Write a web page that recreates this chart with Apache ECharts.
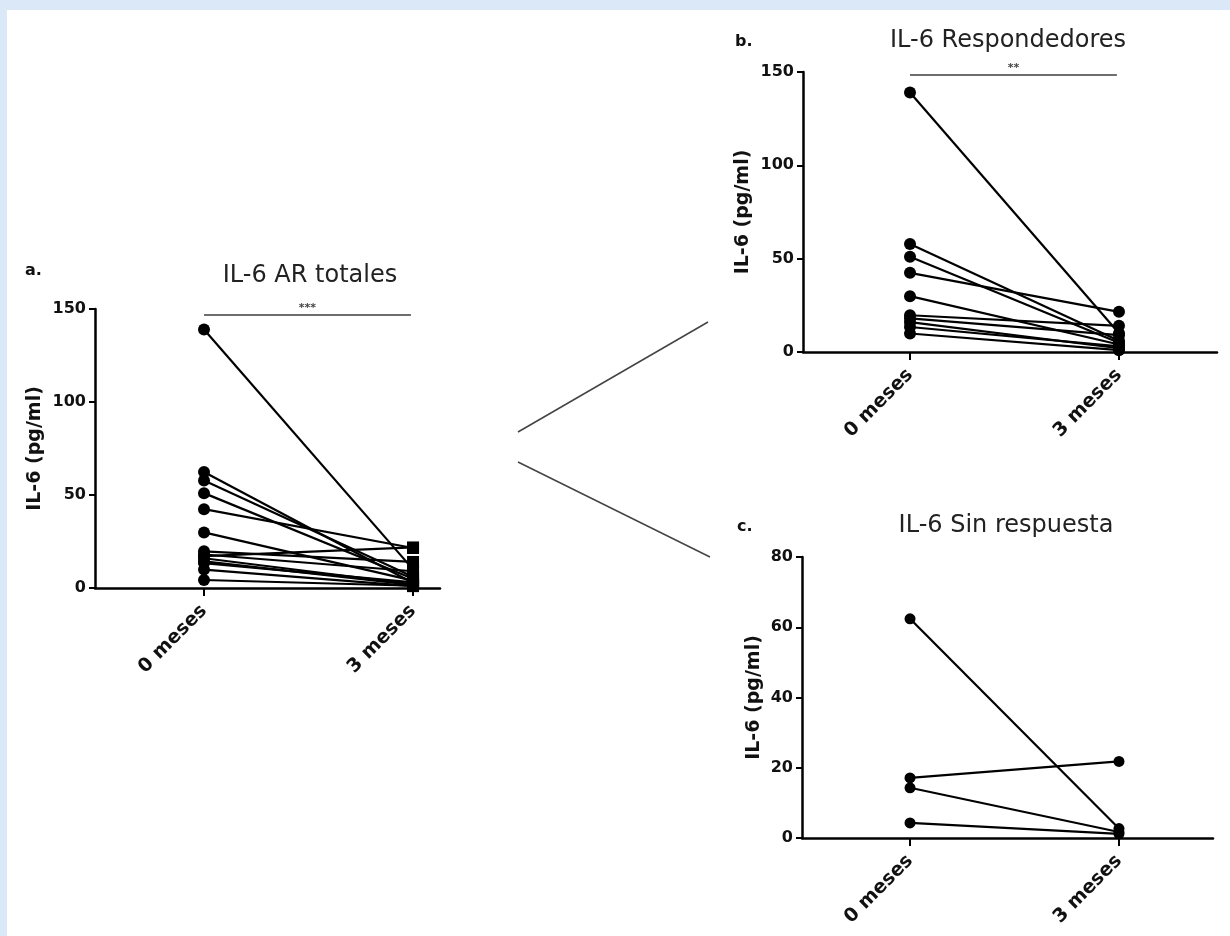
<!DOCTYPE html>
<html>
<head>
<meta charset="utf-8">
<script src="https://cdn.jsdelivr.net/npm/echarts@6/dist/echarts.min.js"></script>
<style>
html,body{margin:0;padding:0;background:#dbe8f8;}
#chart{width:1230px;height:936px;}
</style>
</head>
<body>
<div id="chart"></div>
<script>
// ---- data ----
const categories = ['0 meses', '3 meses'];
const respBaseline = [139, 57.8, 51, 42.4, 29.9, 19.7, 18, 16, 13.4, 9.9];
const respMonth3   = [10, 6, 5, 21.5, 4, 14, 9, 2, 3, 1];
const nonBaseline  = [62.4, 17.1, 14.3, 4.3];
const nonMonth3    = [2.7, 21.8, 1.7, 1.2];
const totalBaseline = respBaseline.concat(nonBaseline);
const totalMonth3   = respMonth3.concat(nonMonth3);
const panelTitles = ['IL-6 AR totales', 'IL-6 Respondedores', 'IL-6 Sin respuesta'];
const panelLetters = ['a.', 'b.', 'c.'];
const yAxisName = 'IL-6 (pg/ml)';
const yMax = [150, 150, 80];
const yStep = [50, 50, 20];
const sigLabels = ['***', '**'];
const sigLevel = [147, 148.5];

// ---- chart ----
const chart = echarts.init(document.getElementById('chart'), null, {renderer: 'canvas'});
const FONT = '"DejaVu Sans", "Liberation Sans", Arial, sans-serif';

const grids = [
  {left: 95, top: 309, width: 345, height: 279},
  {left: 803, top: 72, width: 414, height: 280},
  {left: 802, top: 557, width: 411, height: 281}
];
const xRange = [[-0.5215, 1.129], [-0.512, 1.469], [-0.517, 1.45]];
const nameGaps = [50, 50, 38];

const xAxes = grids.map((g, i) => ({
  type: 'value', gridIndex: i, min: xRange[i][0], max: xRange[i][1],
  axisLine: {show: true, onZero: false, lineStyle: {color: '#000', width: 2.5}},
  axisTick: {show: true, customValues: [0, 1], length: 8, lineStyle: {color: '#000', width: 2}},
  axisLabel: {show: true, customValues: [0, 1], rotate: 45, margin: 20,
    formatter: v => categories[Math.round(v)] || '',
    fontFamily: FONT, fontWeight: 'bold', fontSize: 19, color: '#111'},
  splitLine: {show: false}
}));
const yAxes = grids.map((g, i) => ({
  type: 'value', gridIndex: i, min: 0, max: yMax[i], interval: yStep[i],
  name: yAxisName, nameLocation: 'middle', nameGap: nameGaps[i], nameRotate: 90,
  nameTextStyle: {fontFamily: FONT, fontWeight: 'bold', fontSize: 19, color: '#111'},
  axisLine: {show: true, onZero: false, lineStyle: {color: '#000', width: 2.5}},
  axisTick: {show: true, length: 6, lineStyle: {color: '#000', width: 2}},
  axisLabel: {fontFamily: FONT, fontWeight: 'bold', fontSize: 16, color: '#111', margin: 9},
  splitLine: {show: false}
}));

const series = [];
function addPairs(gi, base, m3, sym3, size) {
  base.forEach((v, k) => {
    series.push({
      type: 'line', xAxisIndex: gi, yAxisIndex: gi, silent: true, animation: false,
      clip: false, symbol: 'circle', symbolSize: size, showAllSymbol: true,
      lineStyle: {color: '#000', width: 2.2}, itemStyle: {color: '#000'},
      data: [{value: [0, v]}, {value: [1, m3[k]], symbol: sym3}]
    });
  });
}
addPairs(0, totalBaseline, totalMonth3, 'rect', 12);
addPairs(1, respBaseline, respMonth3, 'circle', 12);
addPairs(2, nonBaseline, nonMonth3, 'circle', 11);

// significance bars
[0, 1].forEach(gi => {
  series.push({
    type: 'line', xAxisIndex: gi, yAxisIndex: gi, silent: true, animation: false,
    data: [], symbol: 'none',
    markLine: {
      silent: true, symbol: 'none', animation: false,
      lineStyle: {color: '#6e6e6e', width: 2, type: 'solid'},
      label: {show: true, position: 'middle', formatter: sigLabels[gi],
        color: '#444', fontSize: 11, fontWeight: 'bold', fontFamily: FONT, distance: 1},
      emphasis: {disabled: true},
      data: [[{coord: [0, sigLevel[gi]]}, {coord: [0.99, sigLevel[gi]]}]]
    }
  });
});

const titlePos = [[310, 276], [1008, 41], [1006, 526]];
const letterPos = [[25, 271], [735, 42], [737, 527]];
const graphic = [
  {type: 'rect', z: -10, silent: true, shape: {x: 7, y: 10, width: 1223, height: 926}, style: {fill: '#fff'}},
  {type: 'line', silent: true, shape: {x1: 518, y1: 432, x2: 708, y2: 322}, style: {stroke: '#444', lineWidth: 1.5}},
  {type: 'line', silent: true, shape: {x1: 518, y1: 462, x2: 710, y2: 557}, style: {stroke: '#444', lineWidth: 1.5}}
];
panelTitles.forEach((t, i) => {
  graphic.push({type: 'text', silent: true, x: titlePos[i][0], y: titlePos[i][1],
    style: {text: t, font: '24px ' + FONT, fill: '#222', textAlign: 'center', textVerticalAlign: 'middle'}});
  graphic.push({type: 'text', silent: true, x: letterPos[i][0], y: letterPos[i][1],
    style: {text: panelLetters[i], font: 'bold 16px ' + FONT, fill: '#111', textAlign: 'left', textVerticalAlign: 'middle'}});
});

chart.setOption({
  backgroundColor: '#dbe8f8',
  animation: false,
  grid: grids.map(g => Object.assign({containLabel: false}, g)),
  xAxis: xAxes,
  yAxis: yAxes,
  series: series,
  graphic: graphic
});
</script>
</body>
</html>
